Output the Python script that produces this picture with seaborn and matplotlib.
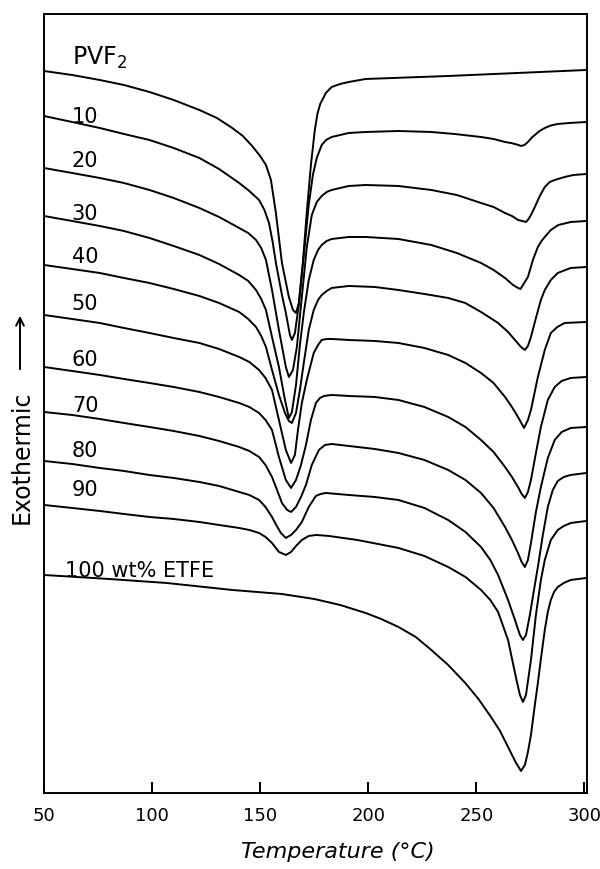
import matplotlib
matplotlib.use("Agg")
import matplotlib.pyplot as plt
import seaborn as sns
import pandas as pd

# DSC heating traces of PVF2 / ETFE blends (heat flow in arbitrary units, curves offset)
t_pvf2 = [50, 63, 75.8, 87, 98.8, 110, 121.9, 130, 137.1, 142, 146.3, 150, 152.7, 155.0, 157.3,
          160.1, 163.3, 165.2, 166.6, 167.9, 169.8, 171.6, 173.5, 175.3, 176.5, 177.8, 180.4,
          183.1, 187, 191.0, 198.8, 237.0, 301]
y_pvf2 = [72.9, 72.5, 72.0, 71.5, 70.8, 70.0, 69.0, 68.2, 67.2, 66.4, 65.4, 64.4, 63.5, 62.0, 58.7,
          53.7, 50.3, 49.0, 48.7, 49.7, 53.8, 58.8, 63.5, 67.0, 68.6, 69.6, 70.7,
          71.3, 71.6, 71.8, 72.1, 72.4, 73.0]

t_10 = [50, 63, 75.8, 87, 98.8, 110, 121.9, 131, 140.3, 145, 149.5, 152, 154.1, 155.8, 157.3,
        160.1, 161.9, 163.8, 164.7, 166.1, 167.9, 170.2, 172.5, 174.4, 176.2, 178.5, 180.5, 183.1,
        191.0, 198.8, 214, 229.2, 240, 252.2, 258, 263.3, 266, 267.9, 269.5, 270.7, 272.3, 273.9,
        275.5, 277.1, 279.3, 281.7, 284.5, 287.7, 293, 301]
y_10 = [68.4, 67.8, 67.2, 66.6, 66.0, 65.2, 64.2, 63.1, 61.7, 60.9, 60.0, 59.0, 57.7, 55.8, 53.7,
        50.5, 48.7, 46.5, 46.0, 46.7, 49.5, 54.5, 59.5, 62.5, 64.2, 65.5, 66.0, 66.3,
        66.7, 66.8, 66.9, 66.8, 66.6, 66.3, 66.1, 65.8, 65.7, 65.6, 65.5, 65.4, 65.5, 65.8,
        66.2, 66.5, 66.9, 67.2, 67.45, 67.6, 67.7, 67.8]

t_20 = [50, 63, 75.8, 87, 98.8, 110, 121.9, 131, 140.3, 144.5, 148.1, 150.5, 152.7, 155.5, 158.7,
        161.9, 163.3, 165.2, 167.0, 169.3, 171.6, 173.9, 176.2, 178.5, 180.8, 183.1, 191.0, 198.8,
        214.0, 229.2, 241, 252.2, 258, 263.3, 266.5, 269.3, 271.3, 273.0, 274.2, 275.3, 277.1,
        279.4, 281.7, 284, 286.3, 290.9, 295, 301]
y_20 = [63.2, 62.7, 62.2, 61.7, 61.0, 60.2, 59.2, 58.3, 57.2, 56.7, 56.0, 55.2, 54.0, 51.0, 47.0,
        43.3, 42.3, 43.0, 45.3, 50.3, 55.3, 58.5, 59.8, 60.4, 60.8, 61.0, 61.4, 61.5,
        61.4, 61.0, 60.5, 59.7, 59.3, 58.7, 58.4, 58.0, 57.9, 57.8, 58.1, 58.5, 59.3,
        60.4, 61.3, 61.8, 62.0, 62.3, 62.5, 62.6]

t_30 = [50, 63, 75.8, 87, 98.8, 110, 121.9, 131, 140.3, 144.5, 148.1, 150.5, 152.7, 155.5, 158.7,
        161.5, 163.3, 164.7, 166.6, 168.4, 170.2, 172.5, 174.8, 176.8, 178.5, 180.8, 183.1, 191.0,
        198.8, 214.0, 229.2, 241, 252.2, 258, 263.3, 267.0, 269.3, 270.5, 271.6, 273.9, 276.2,
        278.5, 280.2, 281.7, 284.5, 288, 293.7, 301]
y_30 = [58.4, 57.9, 57.4, 56.9, 56.2, 55.4, 54.5, 53.6, 52.5, 51.9, 51.0, 50.1, 49.0, 46.3, 43.3,
        40.0, 38.2, 38.8, 41.5, 45.5, 48.7, 52.0, 54.0, 55.0, 55.5, 55.9, 56.1, 56.3,
        56.3, 56.1, 55.5, 54.7, 53.7, 53.0, 52.2, 51.5, 51.2, 51.1, 51.5, 52.3, 54.0,
        55.3, 55.9, 56.3, 57.0, 57.5, 57.8, 57.9]

t_40 = [50, 63, 75.8, 87, 98.8, 110, 121.9, 131, 140.3, 144.5, 148.1, 150.5, 152.7, 155.5, 158.7,
        161.5, 163.3, 164.7, 166.6, 168.4, 170.2, 172.5, 174.8, 176.8, 178.5, 180.8, 183.1, 191.0,
        203, 214.0, 226, 237.0, 244.9, 252.2, 260.1, 264.7, 267.9, 270.7, 272.5, 273.9, 275.3,
        277.6, 279.9, 281.7, 284.5, 287.7, 293.7, 301]
y_40 = [53.5, 53.1, 52.7, 52.2, 51.7, 51.1, 50.4, 49.7, 48.8, 48.1, 47.3, 46.4, 45.3, 43.0, 40.5,
        38.7, 37.9, 37.7, 38.7, 41.0, 43.7, 47.0, 49.0, 50.0, 50.5, 50.9, 51.2, 51.4,
        51.3, 51.0, 50.6, 50.2, 49.7, 48.8, 47.7, 46.8, 46.0, 45.3, 45.0, 45.4, 46.3,
        48.2, 50.0, 51.0, 52.0, 52.7, 53.2, 53.3]

t_50 = [50, 63, 75.8, 87, 98.8, 110, 121.9, 131, 140.3, 145, 149.5, 152.5, 155.5, 158.7, 161.9,
        164.3, 166.1, 167.5, 169.3, 171.6, 174.8, 176.8, 178.5, 180.8, 183.1, 191.0, 203, 214.0,
        226, 237.0, 245, 252.2, 258, 263.3, 266.5, 269.3, 272.1, 273.9, 275.3, 278.5, 281.7,
        284.5, 287.5, 290.9, 301]
y_50 = [48.5, 48.1, 47.7, 47.2, 46.7, 46.2, 45.7, 45.1, 44.3, 43.8, 43.0, 42.2, 41.0, 38.0, 35.0,
        33.7, 34.5, 37.0, 39.7, 42.0, 44.7, 45.5, 46.0, 46.1, 46.1, 46.0, 45.9, 45.7,
        45.2, 44.5, 43.7, 42.7, 41.7, 40.3, 39.3, 38.3, 37.2, 38.0, 39.0, 42.3, 45.0,
        46.7, 47.3, 47.7, 47.8]

t_60 = [50, 63, 75.8, 87, 98.8, 110, 121.9, 131, 140.3, 145, 149.5, 152.5, 155.5, 158.7, 161.9,
        164.3, 166.6, 168.9, 171.2, 173.5, 175.8, 177.7, 179.5, 183.1, 191.0, 203, 214.0, 226,
        237.0, 245, 252.2, 258, 263.3, 266.5, 269.3, 271, 272.5, 273.9, 275.3, 277.6, 279.9,
        283.1, 286.3, 289.5, 293.7, 301]
y_60 = [43.3, 42.9, 42.5, 42.1, 41.7, 41.3, 40.8, 40.3, 39.7, 39.3, 38.7, 38.0, 37.0, 34.3, 32.0,
        31.2, 32.0, 33.5, 35.5, 38.0, 39.7, 40.2, 40.4, 40.5, 40.4, 40.3, 40.0, 39.3,
        38.3, 37.3, 36.0, 34.8, 33.3, 32.3, 31.3, 30.6, 30.2, 30.8, 32.0, 34.7, 37.3,
        40.0, 41.3, 41.9, 42.2, 42.3]

t_70 = [50, 63, 75.8, 87, 98.8, 110, 121.9, 131, 140.3, 145, 149.5, 152.5, 155.5, 158, 160.1,
        162.5, 164.3, 166.6, 168.9, 171.2, 173.9, 177.2, 180, 183.1, 191.0, 203, 214.0, 226,
        237.0, 245, 252.2, 258, 263.3, 266.5, 269.3, 271, 272.5, 273.9, 275.3, 277.6, 279.9,
        283.1, 286.3, 289.5, 293.7, 301]
y_70 = [38.8, 38.5, 38.1, 37.7, 37.3, 36.9, 36.4, 35.9, 35.3, 34.9, 34.3, 33.5, 32.3, 30.9, 29.7,
        29.0, 28.8, 29.3, 30.3, 31.5, 33.5, 35.0, 35.5, 35.6, 35.4, 35.1, 34.7, 34.0,
        33.0, 32.0, 30.7, 29.2, 27.3, 26.0, 24.7, 23.8, 23.3, 24.0, 25.7, 28.8, 31.3,
        34.2, 36.0, 36.8, 37.2, 37.3]

t_80 = [50, 63, 75.8, 87, 98.8, 110, 121.9, 131, 140.3, 145, 149.5, 152.5, 155.5, 157.7, 159.6,
        161.9, 164.3, 166.6, 169.3, 172.5, 175.8, 178, 180.4, 191.0, 203, 214.0, 226, 237.0,
        245, 252.2, 256.5, 260.1, 264.7, 267.9, 270.2, 271.6, 273.0, 274.8, 276.7, 278.5, 280.8,
        283.1, 285.4, 287.7, 290.5, 293.7, 301]
y_80 = [33.9, 33.6, 33.2, 32.9, 32.5, 32.2, 31.8, 31.4, 30.8, 30.5, 30.0, 29.3, 28.3, 27.4, 26.7,
        26.2, 26.5, 27.0, 27.8, 29.3, 30.4, 30.6, 30.7, 30.5, 30.3, 30.0, 29.2, 28.0,
        26.8, 25.3, 24.0, 22.5, 20.0, 18.0, 16.5, 16.0, 16.5, 18.5, 21.0, 23.3, 26.5,
        29.3, 31.0, 31.9, 32.3, 32.5, 32.7]

t_90 = [50, 63, 75.8, 87, 98.8, 110, 121.9, 131, 140.3, 145, 149.5, 152.5, 155.5, 158.7, 161.9,
        164.3, 166.6, 169.3, 172.5, 176, 181.8, 195, 214.0, 226, 237.0, 245, 252.2, 256.5,
        260.1, 264.7, 268.4, 270.2, 271.6, 273.0, 275.3, 277.6, 279.9, 281.7, 284.5, 287.7,
        290.5, 293.7, 301]
y_90 = [29.5, 29.2, 28.9, 28.6, 28.3, 28.1, 27.8, 27.5, 27.2, 27.0, 26.7, 26.3, 25.7, 24.8, 24.5,
        24.8, 25.4, 26.0, 26.4, 26.5, 26.4, 26.0, 25.2, 24.4, 23.3, 22.3, 21.0, 20.0,
        18.8, 16.0, 12.2, 10.5, 9.8, 10.5, 14.0, 18.5, 22.0, 24.0, 26.0, 27.0,
        27.4, 27.7, 27.9]

t_etfe = [50, 80, 106.7, 137.1, 160, 175, 187, 198.8, 206, 214.0, 222, 229.2, 237, 244.9, 251,
          256.8, 261, 264.7, 268.4, 270.7, 272.5, 273.9, 275.3, 277.1, 278.5, 279.9, 281.7, 283.1,
          284.5, 286, 287.7, 290.5, 293.7, 301]
y_etfe = [22.5, 22.1, 21.7, 21.0, 20.6, 20.1, 19.5, 18.7, 18.1, 17.3, 16.3, 15.0, 13.5, 11.7, 10.1,
          8.3, 6.9, 5.3, 3.7, 2.9, 3.5, 4.8, 6.5, 9.5, 11.7, 14.1, 17.0, 18.8,
          20.0, 20.8, 21.3, 21.7, 22.0, 22.2]

curve_labels = ["PVF$_2$", "10", "20", "30", "40", "50", "60", "70", "80", "90", "100 wt% ETFE"]
label_baselines = [73.5, 67.7, 63.3, 58.0, 53.7, 49.0, 43.4, 38.8, 34.3, 30.4, 22.3]
x_ticks = [50, 100, 150, 200, 250, 300]

curves = [(t_pvf2, y_pvf2), (t_10, y_10), (t_20, y_20), (t_30, y_30), (t_40, y_40),
          (t_50, y_50), (t_60, y_60), (t_70, y_70), (t_80, y_80), (t_90, y_90),
          (t_etfe, y_etfe)]

sns.set_theme(style="white")
plt.rcParams["font.family"] = ["DejaVu Sans"]

fig = plt.figure(figsize=(6.0, 8.69), dpi=100)
ax = fig.add_axes([0.0733, 0.0875, 0.9042, 0.8964])

for (t, y), lab, yb in zip(curves, curve_labels, label_baselines):
    df = pd.DataFrame({"T": t, "Q": y})
    sns.lineplot(data=df, x="T", y="Q", ax=ax, color="black", linewidth=1.4,
                 estimator=None, sort=False, legend=False)
    ax.lines[-1].set_solid_joinstyle("round")
    xlab = 59.7 if lab.startswith("100") else 62.9
    ax.text(xlab, yb, lab, ha="left", va="baseline", fontsize=15 if lab != "PVF$_2$" else 17,
            color="black")

ax.set_xlim(50, 301)
ax.set_ylim(0.7, 78.6)
ax.set_xticks(x_ticks)
ax.set_xticklabels([str(v) for v in x_ticks], fontsize=13)
ax.set_yticks([])
ax.tick_params(axis="x", direction="in", length=8, width=1.4, pad=10, colors="black",
               bottom=True, top=False)
ax.set_xlabel("")
ax.set_ylabel("")
for sp in ax.spines.values():
    sp.set_visible(True)
    sp.set_color("black")
    sp.set_linewidth(1.4)

fig.text(338 / 600, 1 - 852 / 869, "Temperature (°C)", ha="center", va="center",
         fontsize=16, style="italic", color="black")
fig.text(22 / 600, 1 - 457 / 869, "Exothermic", ha="center", va="center", rotation=90,
         fontsize=17, color="black")
ax.annotate("", xy=(20 / 600, 1 - 313 / 869), xytext=(20 / 600, 1 - 372 / 869),
            xycoords="figure fraction", textcoords="figure fraction",
            arrowprops=dict(arrowstyle="->", color="black", lw=1.4, mutation_scale=14))

fig.savefig("out.png", dpi=100, facecolor="white")
